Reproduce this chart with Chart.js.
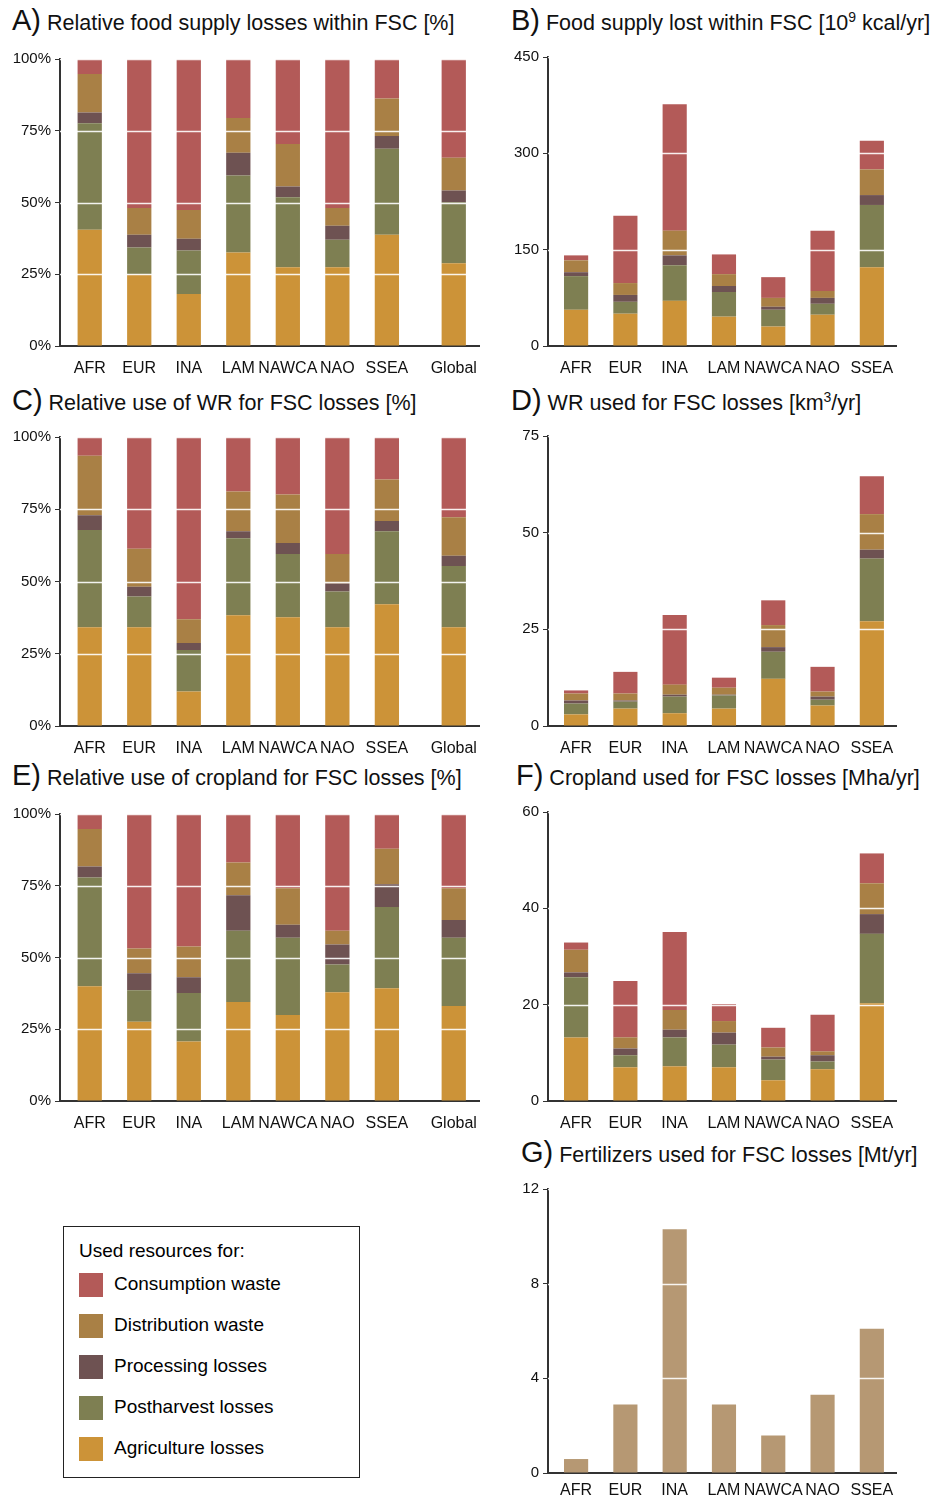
<!DOCTYPE html>
<html>
<head>
<meta charset="utf-8">
<script src="https://cdn.jsdelivr.net/npm/chart.js@4.4.1/dist/chart.umd.min.js"></script>
<style>
  body { margin: 0; background: #fff; font-family: "Liberation Sans", Arial, sans-serif; }
  #page { position: relative; width: 933px; height: 1502px; overflow: hidden; }
  .title { position: absolute; font-size: 21.5px; color: #111; white-space: nowrap; }
  .title b { font-weight: normal; font-size: 29px; }
  .title sup { font-size: 14px; }
  canvas { position: absolute; }
  #legend { position: absolute; left: 63px; top: 1226px; width: 295px; height: 250px; border: 1px solid #222; font-size: 19px; }
  #legend div { position: absolute; left: 15px; }
  #legend span { display: inline-block; width: 24px; height: 24px; vertical-align: middle; margin-right: 11px; }
</style>
</head>
<body>
<div id="page"></div>
<script>
// regions and bar positions (Global sits a little apart)
const regions = ["AFR", "EUR", "INA", "LAM", "NAWCA", "NAO", "SSEA"];
const regionsGlobal = ["AFR", "EUR", "INA", "LAM", "NAWCA", "NAO", "SSEA", "Global"];
const posRegions = [0, 1, 2, 3, 4, 5, 6];
const posGlobal = [0, 1, 2, 3, 4, 5, 6, 7.35];

const stageNames = ["Agriculture losses", "Postharvest losses", "Processing losses", "Distribution waste", "Consumption waste"];
const stageColors = ["#CC9338", "#7E7F52", "#6E5252", "#A98045", "#B35A58"];

// A) relative food supply losses [%]
const aAgri = [40.5, 24.9, 18.1, 32.6, 27.4, 27.4, 38.8, 28.8];
const aPost = [37.1, 9.4, 15.2, 26.8, 24.4, 9.6, 29.9, 21.3];
const aProc = [3.8, 4.5, 4.1, 7.9, 3.8, 4.9, 4.5, 4.1];
const aDist = [13.4, 9.3, 10.0, 12.1, 14.8, 6.2, 13.0, 11.4];
const aCons = [5.2, 51.9, 52.6, 20.6, 29.6, 51.9, 13.8, 34.4];

// B) food supply lost [10^9 kcal/yr]
const bAgri = [56.4, 50.3, 70.3, 45.7, 30.3, 48.7, 122.6];
const bPost = [52.4, 18.5, 55.4, 38.4, 26.1, 17.0, 97.0];
const bProc = [6.1, 10.7, 15.4, 9.3, 4.7, 9.2, 15.4];
const bDist = [18.5, 18.5, 38.5, 18.5, 13.8, 10.8, 40.0];
const bCons = [7.7, 104.7, 197.0, 30.7, 32.3, 93.9, 44.6];

// C) relative use of WR [%]
const cAgri = [34.2, 34.2, 11.9, 38.3, 37.6, 34.2, 42.1, 34.2];
const cPost = [33.6, 10.6, 14.4, 26.7, 21.9, 12.3, 25.3, 21.2];
const cProc = [5.1, 3.4, 2.4, 2.4, 3.8, 2.8, 3.5, 3.5];
const cDist = [20.6, 13.1, 8.2, 13.7, 16.8, 10.2, 14.4, 13.3];
const cCons = [6.5, 38.7, 63.1, 18.9, 19.9, 40.5, 14.7, 27.8];

// D) WR used [km3/yr]
const dAgri = [3.0, 4.5, 3.3, 4.5, 12.2, 5.3, 27.1];
const dPost = [2.8, 1.8, 4.3, 3.4, 7.0, 1.5, 16.2];
const dProc = [0.8, 0.3, 0.5, 0.2, 1.2, 0.8, 2.3];
const dDist = [1.8, 1.8, 2.6, 1.8, 5.7, 1.3, 9.2];
const dCons = [0.8, 5.6, 18.0, 2.6, 6.4, 6.4, 9.8];

// E) relative use of cropland [%]
const eAgri = [40.0, 27.6, 20.7, 34.5, 30.0, 37.9, 39.3, 33.1];
const ePost = [37.9, 11.0, 16.9, 24.8, 26.9, 9.7, 28.3, 23.8];
const eProc = [3.8, 5.9, 5.5, 12.4, 4.5, 6.9, 7.9, 6.2];
const eDist = [13.1, 8.6, 10.7, 11.4, 12.7, 4.8, 12.4, 11.0];
const eCons = [5.2, 46.9, 46.2, 16.9, 25.9, 40.7, 12.1, 25.9];

// F) cropland used [Mha/yr]
const fAgri = [13.2, 7.0, 7.2, 7.0, 4.3, 6.6, 20.3];
const fPost = [12.5, 2.5, 6.0, 4.7, 4.3, 1.6, 14.4];
const fProc = [1.0, 1.4, 1.6, 2.5, 0.6, 1.3, 4.1];
const fDist = [4.7, 2.3, 4.1, 2.4, 1.9, 0.8, 6.4];
const fCons = [1.5, 11.7, 16.2, 3.5, 4.1, 7.6, 6.2];

// G) fertilizers used [Mt/yr]
const gFert = [0.59, 2.89, 10.3, 2.89, 1.58, 3.31, 6.1];

const pctTicks = [0, 25, 50, 75, 100];

const page = document.getElementById("page");

// white grid lines drawn over the bars
const whiteGrid = {
  id: "whiteGrid",
  afterDatasetsDraw(chart) {
    const { ctx, chartArea, scales } = chart;
    ctx.save();
    ctx.strokeStyle = "rgba(255,255,255,0.9)";
    ctx.lineWidth = 1.5;
    scales.y.ticks.forEach(t => {
      if (t.value <= 0) return;
      const y = Math.round(scales.y.getPixelForValue(t.value)) + 0.5;
      ctx.beginPath();
      ctx.moveTo(chartArea.left, y);
      ctx.lineTo(chartArea.right, y);
      ctx.stroke();
    });
    ctx.restore();
  }
};

function addTitle(letter, html, x, y) {
  const d = document.createElement("div");
  d.className = "title";
  d.style.left = x + "px";
  d.style.top = y + "px";
  d.innerHTML = "<b>" + letter + ")</b> " + html;
  page.appendChild(d);
}

function makeChart(cfg) {
  const xh = cfg.xh || 28;
  const c = document.createElement("canvas");
  c.style.left = cfg.left + "px";
  c.style.top = (cfg.plotTop - 10) + "px";
  c.width = cfg.width;
  c.height = cfg.plotH + 10 + xh;
  c.style.width = c.width + "px";
  c.style.height = c.height + "px";
  page.appendChild(c);

  const datasets = cfg.series.map((vals, i) => ({
    label: cfg.names[i],
    data: vals.map((v, j) => ({ x: cfg.pos[j], y: v })),
    backgroundColor: cfg.colors[i],
    borderWidth: 0,
    barPercentage: 0.49,
    categoryPercentage: 1
  }));

  new Chart(c, {
    type: "bar",
    data: { datasets },
    plugins: [whiteGrid],
    options: {
      responsive: false,
      animation: false,
      layout: { padding: { top: 10, right: cfg.padRight, left: 0, bottom: 0 } },
      plugins: { legend: { display: false }, tooltip: { enabled: false } },
      scales: {
        x: {
          type: "linear",
          stacked: true,
          offset: false,
          min: cfg.xmin, max: cfg.xmax,
          afterBuildTicks: (s) => { s.ticks = cfg.pos.map(p => ({ value: p })); },
          afterFit: (s) => { s.height = xh; },
          ticks: {
            autoSkip: false, maxRotation: 0, padding: cfg.xpad !== undefined ? cfg.xpad : 5, color: "#111",
            font: { family: "Liberation Sans", size: 16 },
            callback: (v, i) => cfg.labels[i]
          },
          grid: { display: false },
          border: { color: "#333", width: 2 }
        },
        y: {
          stacked: true,
          min: 0, max: cfg.ymax,
          afterBuildTicks: (s) => { s.ticks = cfg.yticks.map(v => ({ value: v })); },
          afterFit: (s) => { s.width = cfg.yw; },
          ticks: {
            padding: 4, color: "#111",
            font: { family: "Liberation Sans", size: 15 },
            callback: (v) => cfg.pct ? v + "%" : v
          },
          grid: { drawOnChartArea: false, tickLength: 5, color: "#333" },
          border: { color: "#333", width: 2 }
        }
      }
    }
  });
}

const leftCfg = { left: 0, width: 482, yw: 60, padRight: 2, xmin: -0.6, xmax: 7.87, pos: posGlobal, labels: regionsGlobal, pct: true, ymax: 100, yticks: pctTicks, names: stageNames, colors: stageColors };
const rightCfg = { left: 500, width: 400, yw: 48, padRight: 4, xmin: -0.57, xmax: 6.49, pos: posRegions, labels: regions, pct: false, names: stageNames, colors: stageColors };

addTitle("A", "Relative food supply losses within FSC [%]", 12, 4);
makeChart(Object.assign({}, leftCfg, { plotTop: 56, plotH: 290, series: [aAgri, aPost, aProc, aDist, aCons] }));

addTitle("B", "Food supply lost within FSC [10<sup>9</sup> kcal/yr]", 511, 4);
makeChart(Object.assign({}, rightCfg, { plotTop: 54, plotH: 292, ymax: 450, yticks: [0, 150, 300, 450], series: [bAgri, bPost, bProc, bDist, bCons] }));

addTitle("C", "Relative use of WR for FSC losses [%]", 12, 384);
makeChart(Object.assign({}, leftCfg, { plotTop: 434, plotH: 292, series: [cAgri, cPost, cProc, cDist, cCons] }));

addTitle("D", "WR used for FSC losses [km<sup>3</sup>/yr]", 511, 384);
makeChart(Object.assign({}, rightCfg, { plotTop: 433, plotH: 293, ymax: 75, yticks: [0, 25, 50, 75], series: [dAgri, dPost, dProc, dDist, dCons] }));

addTitle("E", "Relative use of cropland for FSC losses [%]", 12, 759);
makeChart(Object.assign({}, leftCfg, { plotTop: 811, plotH: 290, series: [eAgri, ePost, eProc, eDist, eCons] }));

addTitle("F", "Cropland used for FSC losses [Mha/yr]", 516, 759);
makeChart(Object.assign({}, rightCfg, { plotTop: 809, plotH: 292, ymax: 60, yticks: [0, 20, 40, 60], series: [fAgri, fPost, fProc, fDist, fCons] }));

addTitle("G", "Fertilizers used for FSC losses [Mt/yr]", 521, 1136);
makeChart(Object.assign({}, rightCfg, { plotTop: 1186, plotH: 287, xh: 26, xpad: 0, ymax: 12, yticks: [0, 4, 8, 12], series: [gFert], names: ["Fertilizers"], colors: ["#B69873"] }));

// legend box
const lg = document.createElement("div");
lg.id = "legend";
let html = '<div style="top:13px">Used resources for:</div>';
const order = [4, 3, 2, 1, 0];
order.forEach((k, i) => {
  html += '<div style="top:' + (46 + i * 41) + 'px"><span style="background:' + stageColors[k] + '"></span>' + stageNames[k] + '</div>';
});
lg.innerHTML = html;
page.appendChild(lg);
</script>
</body>
</html>
